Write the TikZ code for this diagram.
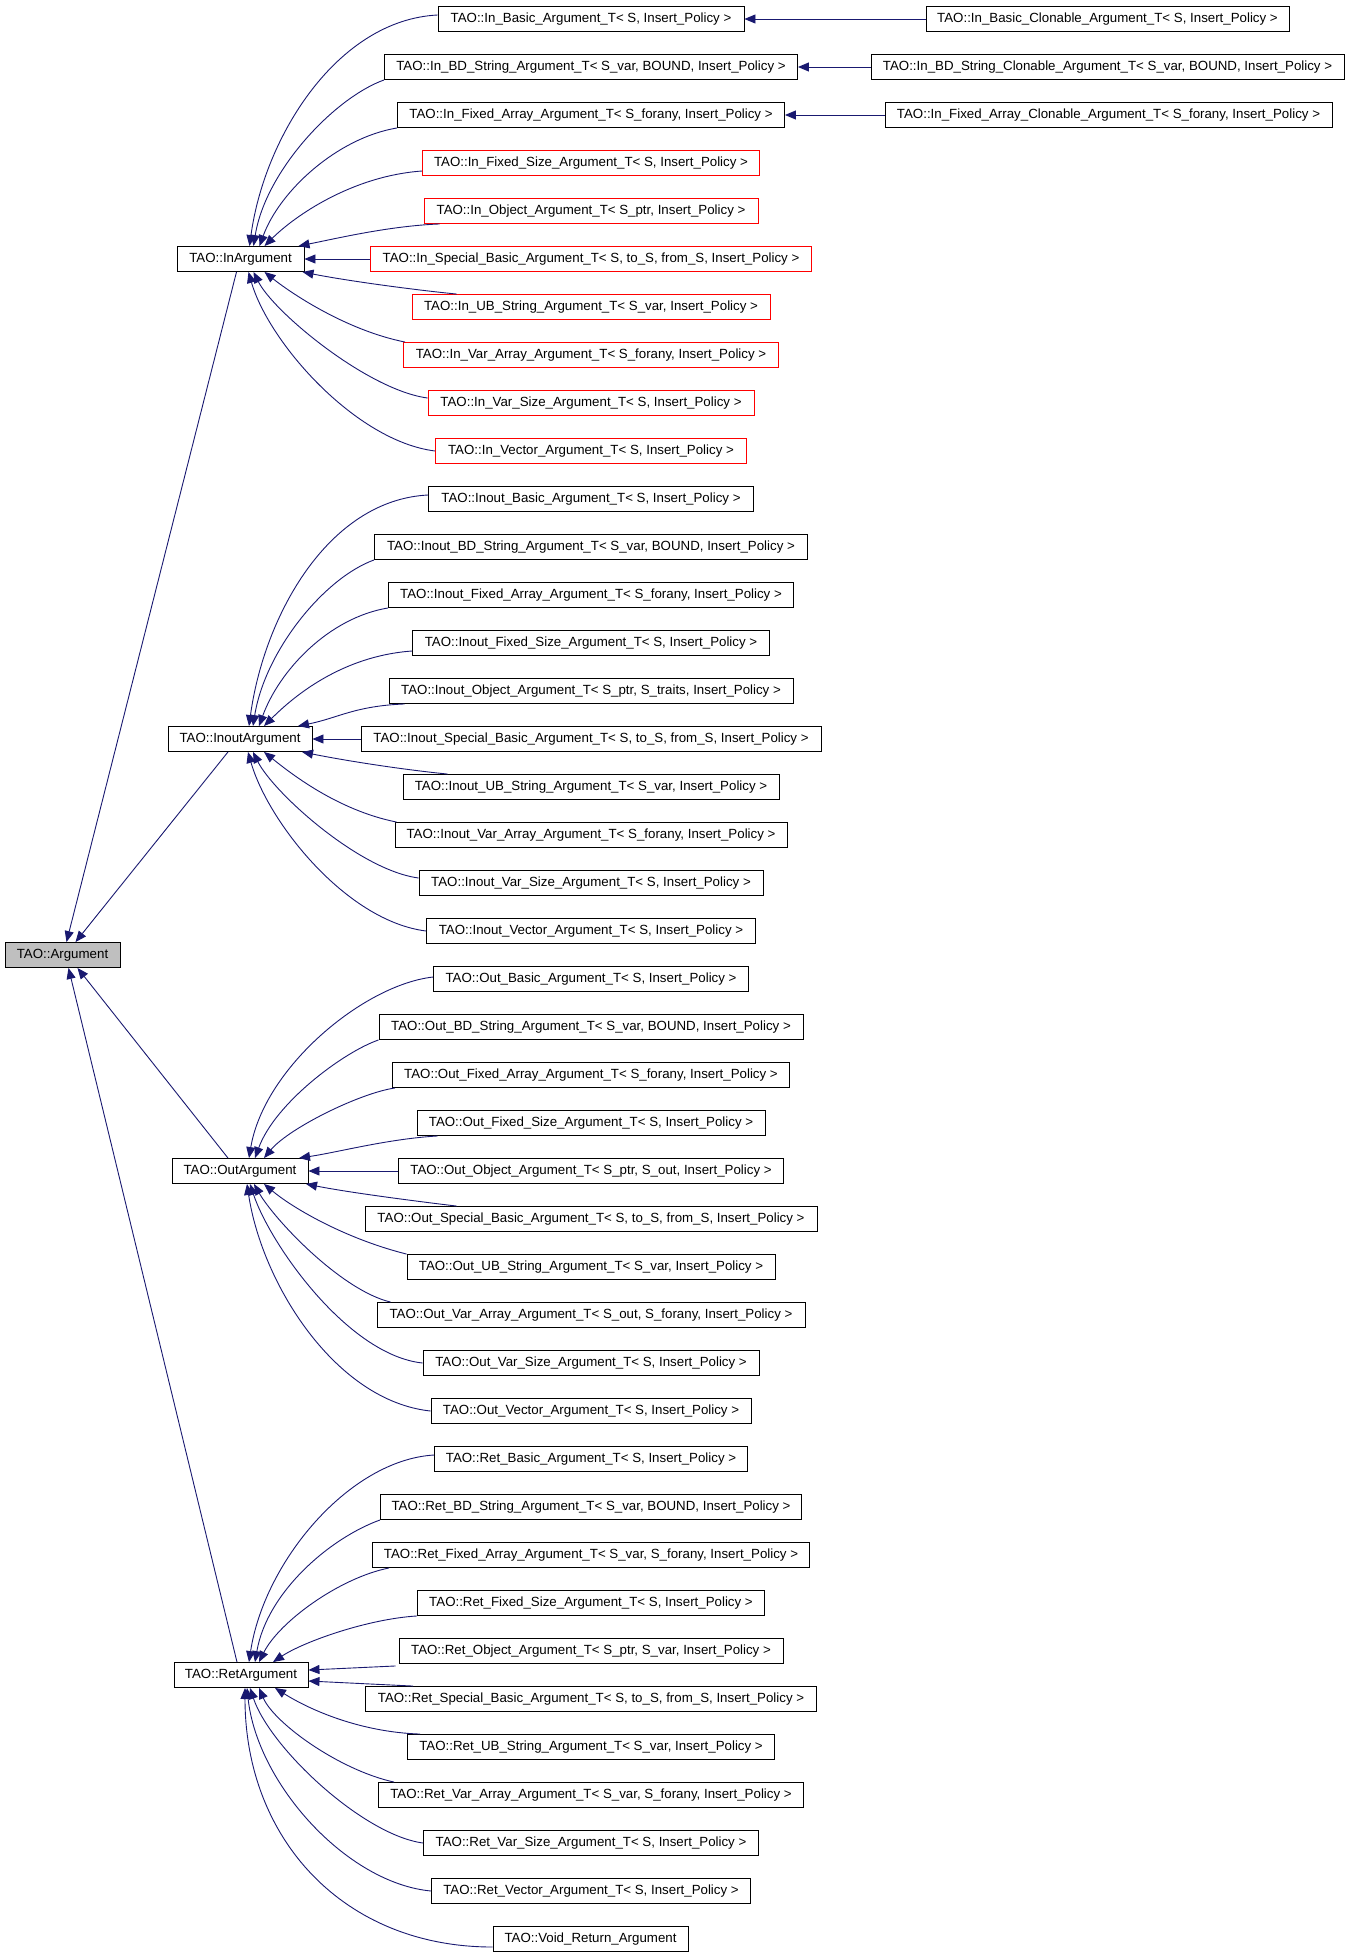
\documentclass[tikz,border=0pt]{standalone}
\usepackage{fontspec}
\setmainfont{Liberation Sans}
\usetikzlibrary{arrows.meta,calc}
\definecolor{edgeblue}{RGB}{25,25,112}
\definecolor{argray}{RGB}{191,191,191}
\tikzset{
  cls/.style={draw=black, fill=white, line width=0.9pt, minimum height=25pt, inner sep=0pt, anchor=center},
  redcls/.style={cls, draw=red},
  edge/.style={draw=edgeblue, line width=0.9pt, -{Triangle[length=11pt,width=9pt]}},
}
\begin{document}
\begin{tikzpicture}[x=1pt,y=-1pt,font=\fontsize{13.3pt}{16pt}\selectfont]
\useasboundingbox (0,0) rectangle (1349,1955);
% base and intermediate classes
\node[cls, fill=argray, minimum width=115pt] (arg) at (62.5,955) {TAO::Argument};
\node[cls, minimum width=127pt] (pa) at (240.5,259) {TAO::InArgument};
\node[cls, minimum width=144pt] (pb) at (240,739) {TAO::InoutArgument};
\node[cls, minimum width=136pt] (pc) at (240,1171) {TAO::OutArgument};
\node[cls, minimum width=134pt] (pd) at (241,1675) {TAO::RetArgument};
% In group
\node[cls, minimum width=306pt] (a0) at (591,19) {TAO::In\_Basic\_Argument\_T< S, Insert\_Policy >};
\node[cls, minimum width=413pt] (a1) at (591,67) {TAO::In\_BD\_String\_Argument\_T< S\_var, BOUND, Insert\_Policy >};
\node[cls, minimum width=387pt] (a2) at (591,115) {TAO::In\_Fixed\_Array\_Argument\_T< S\_forany, Insert\_Policy >};
\node[redcls, minimum width=337pt] (a3) at (591,163) {TAO::In\_Fixed\_Size\_Argument\_T< S, Insert\_Policy >};
\node[redcls, minimum width=334pt] (a4) at (591,211) {TAO::In\_Object\_Argument\_T< S\_ptr, Insert\_Policy >};
\node[redcls, minimum width=441pt] (a5) at (591,259) {TAO::In\_Special\_Basic\_Argument\_T< S, to\_S, from\_S, Insert\_Policy >};
\node[redcls, minimum width=358pt] (a6) at (591,307) {TAO::In\_UB\_String\_Argument\_T< S\_var, Insert\_Policy >};
\node[redcls, minimum width=375pt] (a7) at (591,355) {TAO::In\_Var\_Array\_Argument\_T< S\_forany, Insert\_Policy >};
\node[redcls, minimum width=326pt] (a8) at (591,403) {TAO::In\_Var\_Size\_Argument\_T< S, Insert\_Policy >};
\node[redcls, minimum width=311pt] (a9) at (591,451) {TAO::In\_Vector\_Argument\_T< S, Insert\_Policy >};
% clonables
\node[cls, minimum width=363pt] (cl0) at (1107.5,19) {TAO::In\_Basic\_Clonable\_Argument\_T< S, Insert\_Policy >};
\node[cls, minimum width=473pt] (cl1) at (1107.5,67) {TAO::In\_BD\_String\_Clonable\_Argument\_T< S\_var, BOUND, Insert\_Policy >};
\node[cls, minimum width=447pt] (cl2) at (1108.5,115) {TAO::In\_Fixed\_Array\_Clonable\_Argument\_T< S\_forany, Insert\_Policy >};
% Inout group
\node[cls, minimum width=325pt] (b0) at (591,499) {TAO::Inout\_Basic\_Argument\_T< S, Insert\_Policy >};
\node[cls, minimum width=433pt] (b1) at (591,547) {TAO::Inout\_BD\_String\_Argument\_T< S\_var, BOUND, Insert\_Policy >};
\node[cls, minimum width=405pt] (b2) at (591,595) {TAO::Inout\_Fixed\_Array\_Argument\_T< S\_forany, Insert\_Policy >};
\node[cls, minimum width=357pt] (b3) at (591,643) {TAO::Inout\_Fixed\_Size\_Argument\_T< S, Insert\_Policy >};
\node[cls, minimum width=404pt] (b4) at (591,691) {TAO::Inout\_Object\_Argument\_T< S\_ptr, S\_traits, Insert\_Policy >};
\node[cls, minimum width=460pt] (b5) at (591,739) {TAO::Inout\_Special\_Basic\_Argument\_T< S, to\_S, from\_S, Insert\_Policy >};
\node[cls, minimum width=376pt] (b6) at (591,787) {TAO::Inout\_UB\_String\_Argument\_T< S\_var, Insert\_Policy >};
\node[cls, minimum width=392pt] (b7) at (591,835) {TAO::Inout\_Var\_Array\_Argument\_T< S\_forany, Insert\_Policy >};
\node[cls, minimum width=344pt] (b8) at (591,883) {TAO::Inout\_Var\_Size\_Argument\_T< S, Insert\_Policy >};
\node[cls, minimum width=329pt] (b9) at (591,931) {TAO::Inout\_Vector\_Argument\_T< S, Insert\_Policy >};
% Out group
\node[cls, minimum width=315pt] (c0) at (591,979) {TAO::Out\_Basic\_Argument\_T< S, Insert\_Policy >};
\node[cls, minimum width=424pt] (c1) at (591,1027) {TAO::Out\_BD\_String\_Argument\_T< S\_var, BOUND, Insert\_Policy >};
\node[cls, minimum width=397pt] (c2) at (591,1075) {TAO::Out\_Fixed\_Array\_Argument\_T< S\_forany, Insert\_Policy >};
\node[cls, minimum width=348pt] (c3) at (591,1123) {TAO::Out\_Fixed\_Size\_Argument\_T< S, Insert\_Policy >};
\node[cls, minimum width=385pt] (c4) at (591,1171) {TAO::Out\_Object\_Argument\_T< S\_ptr, S\_out, Insert\_Policy >};
\node[cls, minimum width=452pt] (c5) at (591,1219) {TAO::Out\_Special\_Basic\_Argument\_T< S, to\_S, from\_S, Insert\_Policy >};
\node[cls, minimum width=368pt] (c6) at (591,1267) {TAO::Out\_UB\_String\_Argument\_T< S\_var, Insert\_Policy >};
\node[cls, minimum width=428pt] (c7) at (591,1315) {TAO::Out\_Var\_Array\_Argument\_T< S\_out, S\_forany, Insert\_Policy >};
\node[cls, minimum width=336pt] (c8) at (591,1363) {TAO::Out\_Var\_Size\_Argument\_T< S, Insert\_Policy >};
\node[cls, minimum width=320pt] (c9) at (591,1411) {TAO::Out\_Vector\_Argument\_T< S, Insert\_Policy >};
% Ret group
\node[cls, minimum width=313pt] (d0) at (591,1459) {TAO::Ret\_Basic\_Argument\_T< S, Insert\_Policy >};
\node[cls, minimum width=421pt] (d1) at (591,1507) {TAO::Ret\_BD\_String\_Argument\_T< S\_var, BOUND, Insert\_Policy >};
\node[cls, minimum width=437pt] (d2) at (591,1555) {TAO::Ret\_Fixed\_Array\_Argument\_T< S\_var, S\_forany, Insert\_Policy >};
\node[cls, minimum width=347pt] (d3) at (591,1603) {TAO::Ret\_Fixed\_Size\_Argument\_T< S, Insert\_Policy >};
\node[cls, minimum width=384pt] (d4) at (591,1651) {TAO::Ret\_Object\_Argument\_T< S\_ptr, S\_var, Insert\_Policy >};
\node[cls, minimum width=451pt] (d5) at (591,1699) {TAO::Ret\_Special\_Basic\_Argument\_T< S, to\_S, from\_S, Insert\_Policy >};
\node[cls, minimum width=367pt] (d6) at (591,1747) {TAO::Ret\_UB\_String\_Argument\_T< S\_var, Insert\_Policy >};
\node[cls, minimum width=425pt] (d7) at (591,1795) {TAO::Ret\_Var\_Array\_Argument\_T< S\_var, S\_forany, Insert\_Policy >};
\node[cls, minimum width=335pt] (d8) at (591,1843) {TAO::Ret\_Var\_Size\_Argument\_T< S, Insert\_Policy >};
\node[cls, minimum width=319pt] (d9) at (591,1891) {TAO::Ret\_Vector\_Argument\_T< S, Insert\_Policy >};
\node[cls, minimum width=195pt] (d10) at (590.5,1939) {TAO::Void\_Return\_Argument};
% edges: In and Inout groups
\foreach \g in {a,b} {
  \draw[edge] ($(\g0.west)+(0,-4)$) .. controls +(-100,5) and +(15,-110) .. ($(p\g.north)+(9,0)$);
  \draw[edge] (\g1.south west) .. controls +(-50,18) and +(12,-75) .. ($(p\g.north)+(13,0)$);
  \draw[edge] (\g2.south west) .. controls +(-60,10) and +(20,-55) .. ($(p\g.north)+(19,0)$);
  \draw[edge] ($(\g3.west)+(0,8)$) .. controls +(-70,5) and +(30,-30) .. ($(p\g.north)+(24,0)$);
  \draw[edge] ($(\g4.south west)+(16,0)$) .. controls +(-50,2) and +(40,-8) .. ($(p\g.north)+(58,0)$);
  \draw[edge] (\g5.west) -- (p\g.east);
  \draw[edge] ($(\g6.north west)+(45,0)$) .. controls +(-50,-5) and +(40,8) .. ($(p\g.south)+(62,0)$);
  \draw[edge] ($(\g7.north west)+(2,0)$) .. controls +(-60,-12) and +(25,20) .. ($(p\g.south)+(24,0)$);
  \draw[edge] ($(\g8.west)+(0,-5)$) .. controls +(-60,-8) and +(20,40) .. ($(p\g.south)+(13,0)$);
  \draw[edge] (\g9.west) .. controls +(-80,-10) and +(20,70) .. ($(p\g.south)+(8,0)$);
}
% edges: Out group
\draw[edge] ($(c0.west)+(0,-2)$) .. controls +(-70,8) and +(15,-90) .. ($(pc.north)+(9,0)$);
\draw[edge] (c1.south west) .. controls +(-35,12) and +(20,-55) .. ($(pc.north)+(15,0)$);
\draw[edge] ($(c2.south west)+(3,0)$) .. controls +(-35,5) and +(25,-30) .. ($(pc.north)+(24,0)$);
\draw[edge] ($(c3.south west)+(21,0)$) .. controls +(-50,3) and +(40,-6) .. ($(pc.north)+(59,0)$);
\draw[edge] (c4.west) -- (pc.east);
\draw[edge] ($(c5.north west)+(92,0)$) .. controls +(-50,-6) and +(40,8) .. ($(pc.south)+(66,0)$);
\draw[edge] (c6.north west) .. controls +(-60,-15) and +(30,25) .. ($(pc.south)+(24,0)$);
\draw[edge] ($(c7.north west)+(14,0)$) .. controls +(-50,-12) and +(20,35) .. ($(pc.south)+(14,0)$);
\draw[edge] (c8.west) .. controls +(-75,-8) and +(20,60) .. ($(pc.south)+(10,0)$);
\draw[edge] (c9.west) .. controls +(-95,-10) and +(15,100) .. ($(pc.south)+(7,0)$);
% edges: Ret group
\draw[edge] ($(d0.west)+(0,-4)$) .. controls +(-85,5) and +(15,-100) .. ($(pd.north)+(8,0)$);
\draw[edge] (d1.south west) .. controls +(-50,18) and +(12,-70) .. ($(pd.north)+(14,0)$);
\draw[edge] ($(d2.south west)+(17,0)$) .. controls +(-50,10) and +(20,-40) .. ($(pd.north)+(18,0)$);
\draw[edge] (d3.south west) .. controls +(-50,3) and +(30,-20) .. ($(pd.north)+(32,0)$);
\draw[edge] ($(d4.south west)+(-3,2)$) -- ($(pd.east)+(0,-5)$);
\draw[edge] ($(d5.north west)+(48,0)$) -- ($(pd.east)+(0,6)$);
\draw[edge] ($(d6.north west)+(13,0)$) .. controls +(-60,-2) and +(35,22) .. ($(pd.south)+(34,0)$);
\draw[edge] ($(d7.north west)+(16,0)$) .. controls +(-55,-12) and +(15,35) .. ($(pd.south)+(18,0)$);
\draw[edge] (d8.west) .. controls +(-60,-8) and +(20,60) .. ($(pd.south)+(9,0)$);
\draw[edge] (d9.west) .. controls +(-85,-8) and +(10,95) .. ($(pd.south)+(6,0)$);
\draw[edge] ($(d10.west)+(0,8)$) .. controls +(-150,0) and +(0,150) .. ($(pd.south)+(4,0)$);
% clonable edges
\draw[edge] (cl0.west) -- (a0.east);
\draw[edge] (cl1.west) -- (a1.east);
\draw[edge] (cl2.west) -- (a2.east);
% edges to Argument
\draw[edge] ($(pa.south)+(-4,0)$) -- ($(arg.north)+(4,0)$);
\draw[edge] ($(pb.south)+(-12,0)$) -- ($(arg.north)+(13,0)$);
\draw[edge] ($(pc.north)+(-12,0)$) -- ($(arg.south)+(15,0)$);
\draw[edge] ($(pd.north)+(-4,0)$) -- ($(arg.south)+(6,0)$);
\end{tikzpicture}
\end{document}
